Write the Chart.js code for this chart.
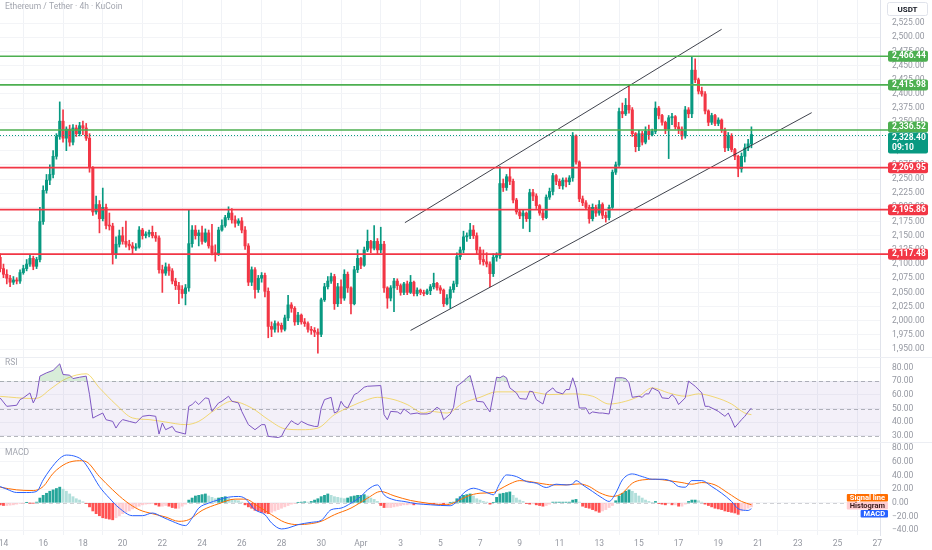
<!DOCTYPE html>
<html><head><meta charset="utf-8">
<script src="https://cdn.jsdelivr.net/npm/chart.js@4.4.1/dist/chart.umd.min.js"></script>
<style>
html,body{margin:0;padding:0;background:#fff;}
#wrap{position:relative;width:932px;height:550px;}
canvas{display:block;}
</style></head><body>
<div id="wrap"><canvas id="c" width="932" height="550"></canvas></div>
<script>
// ---------------- DATA ----------------
const TITLE = 'Ethereum / Tether · 4h · KuCoin';
const QUOTE = 'USDT';
const FIRST_CANDLE_UTC = Date.UTC(2021, 2, 13, 20); // first 4h candle: Mar 13 20:00
const TICK_DATES = ['2021-03-14','2021-03-16','2021-03-18','2021-03-20','2021-03-22','2021-03-24','2021-03-26','2021-03-28','2021-03-30','2021-04-01','2021-04-03','2021-04-05','2021-04-07','2021-04-09','2021-04-11','2021-04-13','2021-04-15','2021-04-17','2021-04-19','2021-04-21','2021-04-23','2021-04-25','2021-04-27'];
const TICK_LABELS = ['14','16','18','20','22','24','26','28','30','Apr','3','5','7','9','11','13','15','17','19','21','23','25','27'];
const PRICE_TICKS = [1950,1975,2000,2025,2050,2075,2100,2125,2150,2175,2200,2225,2250,2275,2300,2325,2350,2375,2400,2425,2450,2475,2500,2525];
const RSI_TICKS = [30,40,50,60,70,80];
const MACD_TICKS = [-40,-20,0,20,40,60,80];

const OPEN = [2112,2092,2082,2075,2068,2072,2070,2085,2092,2100,2110,2096,2108,2175,2230,2248,2258,2290,2325,2352,
2322,2338,2315,2340,2330,2344,2340,2322,2270,2192,2205,2180,2200,2168,2167,2118,2135,2150,2140,2135,
2132,2128,2130,2160,2150,2153,2156,2150,2146,2090,2084,2095,2088,2070,2062,2055,2048,2058,2136,2160,
2150,2155,2140,2155,2132,2120,2118,2160,2168,2182,2190,2178,2172,2176,2160,2132,2068,2090,2055,2075,
2080,2052,1990,1985,1995,1992,1985,2005,2028,2022,1998,2010,1998,1995,1985,1983,1980,1976,2037,2060,
2070,2078,2030,2060,2040,2082,2058,2030,2090,2110,2098,2125,2140,2128,2140,2125,2135,2058,2040,2058,
2070,2062,2050,2065,2050,2068,2048,2054,2050,2048,2053,2060,2066,2058,2054,2030,2040,2055,2065,2113,
2125,2148,2150,2160,2150,2125,2108,2104,2100,2083,2112,2115,2242,2235,2254,2246,2213,2192,2185,2190,
2180,2226,2220,2203,2190,2182,2218,2228,2256,2246,2238,2248,2245,2252,2326,2280,2215,2208,2200,2180,
2200,2190,2205,2186,2182,2200,2262,2275,2369,2365,2380,2372,2330,2307,2330,2315,2334,2328,2334,2375,
2362,2350,2338,2358,2360,2342,2338,2326,2372,2365,2442,2425,2405,2400,2370,2350,2362,2348,2354,2336,
2305,2326,2302,2290,2268,2290,2305,2312];
const HIGH = [2118,2100,2090,2080,2078,2076,2090,2098,2108,2116,2114,2112,2200,2238,2258,2275,2300,2330,2386,2372,
2342,2345,2346,2345,2350,2352,2348,2330,2272,2220,2212,2234,2206,2190,2172,2148,2160,2165,2176,2142,
2138,2136,2166,2163,2157,2160,2167,2156,2150,2098,2102,2100,2092,2075,2068,2062,2064,2195,2168,2168,
2160,2167,2162,2160,2170,2134,2165,2178,2186,2201,2198,2185,2180,2182,2166,2136,2095,2094,2080,2085,
2084,2058,1998,2000,1998,1996,2010,2045,2032,2025,2015,2012,2004,1998,1990,1988,1986,2040,2066,2078,
2084,2082,2066,2072,2090,2086,2060,2096,2125,2112,2130,2160,2142,2168,2145,2165,2140,2060,2062,2075,
2074,2065,2068,2070,2080,2070,2058,2056,2054,2056,2064,2084,2068,2062,2056,2046,2060,2070,2120,2130,
2158,2155,2172,2168,2155,2130,2125,2120,2104,2118,2120,2272,2250,2258,2269,2250,2216,2196,2196,2192,
2232,2232,2224,2205,2195,2222,2234,2260,2258,2250,2252,2252,2256,2332,2328,2282,2220,2212,2204,2206,
2204,2212,2208,2192,2204,2266,2280,2375,2384,2392,2416,2376,2332,2336,2334,2342,2345,2338,2386,2378,
2364,2352,2362,2366,2362,2350,2342,2378,2376,2466,2462,2428,2412,2404,2372,2366,2364,2358,2356,2340,
2332,2330,2304,2292,2296,2312,2320,2342];
const LOW = [2086,2076,2065,2060,2064,2065,2066,2082,2088,2096,2090,2092,2104,2170,2225,2240,2252,2285,2320,2315,
2300,2308,2310,2325,2326,2328,2318,2262,2186,2188,2155,2176,2162,2160,2100,2110,2130,2135,2130,2125,
2118,2124,2128,2144,2146,2148,2146,2140,2084,2050,2080,2080,2065,2055,2030,2040,2028,2052,2130,2144,
2132,2135,2138,2128,2116,2105,2115,2158,2165,2178,2172,2165,2168,2155,2126,2062,2062,2040,2050,2068,
2042,1970,1972,1980,1980,1980,1982,2000,2015,1992,1993,1994,1990,1980,1976,1972,1943,1972,2034,2056,
2066,2020,2025,2030,2036,2050,2012,2028,2085,2092,2096,2122,2120,2125,2118,2120,2050,2022,2035,2016,
2055,2045,2046,2046,2048,2044,2044,2046,2044,2046,2046,2056,2054,2048,2025,2028,2022,2050,2060,2108,
2120,2140,2145,2145,2118,2100,2098,2095,2060,2078,2105,2110,2228,2230,2240,2208,2188,2180,2163,2175,
2157,2212,2198,2186,2178,2180,2214,2222,2240,2233,2232,2236,2240,2246,2276,2210,2203,2196,2172,2176,
2184,2186,2180,2174,2178,2198,2258,2272,2358,2362,2366,2325,2298,2300,2310,2312,2320,2326,2330,2356,
2345,2330,2286,2346,2338,2330,2320,2322,2358,2358,2420,2400,2396,2365,2344,2346,2344,2344,2332,2298,
2300,2298,2284,2254,2262,2280,2300,2305];
const CLOSE = [2092,2082,2075,2068,2072,2070,2085,2092,2100,2110,2096,2108,2175,2230,2248,2258,2290,2325,2352,2322,
2338,2315,2340,2330,2344,2340,2322,2270,2192,2205,2180,2200,2168,2167,2118,2135,2150,2140,2135,2132,
2128,2130,2160,2150,2153,2156,2150,2146,2090,2084,2095,2088,2070,2062,2055,2048,2058,2136,2160,2150,
2155,2140,2155,2132,2120,2118,2160,2168,2182,2190,2178,2172,2176,2160,2132,2068,2090,2055,2075,2080,
2052,1990,1985,1995,1992,1985,2005,2028,2022,1998,2010,1998,1995,1985,1983,1980,1976,2037,2060,2070,
2078,2030,2060,2040,2082,2058,2030,2090,2110,2098,2125,2140,2128,2140,2125,2135,2058,2040,2058,2070,
2062,2050,2065,2050,2068,2048,2054,2050,2048,2053,2060,2066,2058,2054,2030,2040,2055,2065,2113,2125,
2148,2150,2160,2150,2125,2108,2104,2100,2083,2112,2115,2242,2235,2254,2246,2213,2192,2185,2190,2180,
2226,2220,2203,2190,2182,2218,2228,2256,2246,2238,2248,2245,2252,2326,2280,2215,2208,2200,2180,2200,
2190,2205,2186,2182,2200,2262,2275,2369,2365,2380,2372,2330,2307,2330,2315,2334,2328,2334,2375,2362,
2350,2338,2358,2360,2342,2338,2326,2372,2365,2442,2425,2405,2400,2370,2350,2362,2348,2354,2336,2305,
2326,2302,2290,2268,2290,2305,2312,2328.40];
const COUNTDOWN = '09:10';

const GREEN_LEVELS = [2466.44, 2415.98, 2336.52];
const RED_LEVELS = [2269.95, 2195.86, 2117.48];
// trend channel: [candle index, price]
const CHANNEL_UPPER = [[122.3, 2173], [218, 2514]];
const CHANNEL_LOWER = [[124, 1983], [245.2, 2367]];

// RSI (14) and its moving average: [candle index, value]
const RSI = [[0,57.8],[2,51.7],[5,52.5],[6,56.6],[7,57.9],[9,61.5],[10,54.2],[11,59.1],[12,73.8],[14,76.2],[16,78],[18,82.8],[19,75],[21,74.5],[22,72],[24,73],[26,73.8],[27,60.3],[28,43.1],[29,44.4],[31,46.8],[32,41.9],[34,40.7],[35,35.8],[36,39.5],[37,42],[39,40.7],[41,39.5],[43,44.4],[45,45.1],[47,44.4],[48,31.4],[49,39.5],[50,34.6],[52,37],[53,33.3],[56,31.4],[57,51.7],[58,53],[59,55.4],[60,53],[62,57.9],[63,57.4],[64,48],[66,54.2],[67,55.4],[69,59.1],[70,55.4],[72,54.2],[73,48],[75,38.3],[77,34.6],[79,38.3],[80,38.3],[81,29.7],[84,28.9],[85,29.7],[86,34.6],[88,41.2],[89,39.5],[90,38.3],[91,40.7],[93,38.3],[95,37],[96,37],[97,50.5],[98,56.6],[100,58.3],[101,46.8],[102,48],[103,55.4],[104,51.7],[105,50.5],[107,60.3],[108,61.5],[110,65.7],[111,66.4],[115,66.9],[116,45.6],[117,41.9],[118,48],[120,47.6],[121,46.1],[122,49.8],[124,46.1],[126,46.8],[127,46.1],[129,46.1],[130,46.8],[132,51],[133,49.3],[134,41.9],[136,46.1],[137,51],[138,66.4],[140,70.1],[141,72.6],[142,74.3],[143,65.2],[144,55.4],[146,54.9],[147,51],[148,47.6],[149,60.3],[150,73],[151,72.6],[152,74],[153,72.6],[154,65.2],[156,61.5],[157,57.4],[159,56.9],[160,62.8],[161,62.3],[162,56.6],[164,53.4],[165,61.5],[167,65.2],[168,62.3],[170,60.8],[171,64],[172,64],[173,72.6],[174,65.2],[175,50.5],[177,50.5],[178,46.1],[179,47.6],[181,46.8],[182,46.8],[184,46.1],[185,57.9],[186,72.6],[188,72.6],[189,72],[190,68.9],[191,58.3],[193,59.1],[194,58.3],[195,60.8],[196,60.8],[197,65.2],[199,62.8],[200,57.9],[202,57.4],[203,60.3],[204,57.9],[205,53],[207,57.9],[208,70.1],[210,66.4],[212,61.5],[213,51.7],[214,51.7],[216,49.3],[217,48],[219,44.4],[220,46.8],[221,41.9],[222,36.3],[224,41.9],[225,44.4],[226,47.6],[227,50.5]];
const RSI_MA = [[0,59],[10,57.4],[12,58.3],[15,64],[20,72],[26,75.5],[30,65.2],[35,53],[40,43.2],[45,42],[50,40.2],[56,38.3],[60,40.7],[65,49.3],[70,55.4],[76,50.5],[81,42],[86,35.3],[91,34.6],[96,35.8],[101,45.6],[106,51.7],[111,56.6],[114,58.3],[119,56.6],[123,53],[128,46.8],[130,48],[135,46.8],[140,54.2],[145,58.3],[150,62.3],[155,62.3],[160,62.3],[166,60.3],[173,60.8],[179,59.1],[184,53.4],[189,55.4],[193,59.1],[197,65.2],[202,61.5],[207,59.1],[211,60.8],[216,58.3],[221,53.4],[225,46.8],[227,45.6]];
const RSI_BAND = [30, 70];
const RSI_LEVELS = [70, 50, 30];

// MACD (12,26,9): [candle index, value]
const MACD = [[0,23.9],[2,20],[5,15.1],[8,15.1],[11,16.6],[13,33.6],[15,48.2],[18,65.2],[20,70.1],[23,67.7],[25,61.8],[27,48.2],[30,23.9],[33,6.8],[36,-7.8],[40,-18.9],[43,-18.9],[46,-15],[49,-20.9],[52,-27.2],[56,-33.5],[58,-22.4],[60,-7.8],[63,-0.5],[66,4.4],[69,8.3],[72,9.3],[74,6.4],[77,-10.2],[80,-17.5],[82,-29.6],[85,-38.4],[87,-37],[90,-32.1],[94,-28.7],[97,-25.8],[100,-10.2],[103,-7.8],[106,-0.5],[109,9.3],[111,19],[114,26.3],[116,11.7],[119,4.4],[122,2],[126,-1.4],[130,-2.9],[133,-3.9],[136,-4.3],[138,2],[140,14.1],[143,21.4],[145,19],[148,13.2],[149,11.7],[151,28.7],[153,40.9],[156,38.5],[159,31.2],[162,28.7],[165,22.4],[168,27.3],[171,26.3],[173,27.8],[174,32.6],[176,26.3],[179,16.6],[182,6.8],[184,2],[186,14.1],[188,33.6],[191,42.4],[194,38.5],[197,34.6],[200,34.6],[203,31.2],[205,23.9],[207,22.9],[209,32.6],[212,32.6],[215,23.9],[218,14.1],[221,2],[223,-8.7],[226,-11.2],[227,-8.7]];
const SIGNAL = [[0,22.9],[5,19],[10,18],[13,23.9],[16,43.3],[20,57.9],[24,61.8],[26,60.4],[30,38.5],[34,19],[38,2],[42,-10.2],[46,-16],[50,-20.9],[54,-27.2],[57,-24.8],[61,-11.2],[66,-1.4],[71,5.4],[74,5.4],[78,-5.3],[82,-17.5],[86,-28.7],[90,-32.1],[94,-30.6],[97,-27.2],[101,-17.5],[106,-7.8],[111,6.8],[115,16.6],[119,10.3],[124,3.4],[129,-0.5],[130,-1.4],[135,-2.9],[138,2],[141,9.3],[145,14.1],[149,15.1],[151,20],[154,27.8],[157,32.6],[160,31.2],[163,28.7],[167,26.3],[171,26.3],[175,27.8],[178,23.9],[181,15.1],[185,9.3],[188,14.1],[191,28.7],[194,33.6],[198,34.6],[202,32.6],[206,29.7],[209,27.3],[212,29.7],[216,26.3],[220,14.1],[224,2],[227,-2.9]];
const HIST = [-3,-4,-4,-3.5,-3,-2,-1,-0.5,0.3,-0.3,-0.5,1,7,11,14,17,19,21,23,20,
17,13,9,6,4,1.5,-1,-6,-12,-16,-19,-22,-23,-24,-25,-22,-19,-16,-14,-12,
-9,-7,-5,-3,-2,-1.5,-1,-3,-5,-5,-4,-5,-7,-8,-8,-5,-2,4,7,10,
11,12,13,10,8,6,7,8,9,7,5,4,3,1,-3,-6,-8,-11,-12,-14,
-15,-16,-14,-12,-10,-8,-6,-4,-2,-1,0.5,1,1.5,1,2,4,6,9,11,13,
11,9,8,7,6,7,9,10,11,11,12,10,7,5,2,-4,-7,-7,-7,-6,
-5,-4,-3,-3,-2,-3,-2,-1.5,-1,-1,-1.5,-2,-2,-1.5,-2.5,-1,0.5,1,6,9,
11,12,13,10,6,4,2,1,-2,0.5,8,13,14,15,16,11,7,4,2,-1,
-2,-1.5,-3,-4,-5,-4,-2,1,1,1,1,1,1,4,5,1,-5,-7,-8,-10,
-12,-14,-12,-10,-7,-4,3,10,14,17,19,17,14,10,7,4,2,0.5,2,-1,
-2,-3,-1,-3,-3,-5,-5,-2,2,4,4,3,1,-2,-4,-6,-8,-9,-10,-12,
-13,-14,-15,-17,-12,-10,-8,-6];

// ---------------- CHART ----------------
const FONT = 'Roboto, "Noto Sans", "DejaVu Sans", sans-serif';
Chart.defaults.font.family = FONT;
const UP = '#089981', DN = '#f23645', GREEN = '#4caf50', RED = '#f23645';
const TEXT = '#9598a1';
const H4 = 4 * 3600 * 1000;
const TICK_POS = TICK_DATES.map(d => (Date.parse(d + 'T00:00:00Z') - FIRST_CANDLE_UTC) / H4);
const IDX = CLOSE.map((_, i) => i);
const isUp = i => CLOSE[i] >= OPEN[i];
const pts = arr => arr.map(([x, y]) => ({x, y}));
const fmt = v => (v < 0 ? '\u2212' : '') + Math.abs(v).toLocaleString('en-US', {minimumFractionDigits: 2, maximumFractionDigits: 2});
const histColor = i => {
  const v = HIST[i], p = i > 0 ? HIST[i - 1] : 0;
  if (v >= 0) return v >= p ? '#26a69a' : '#b2dfdb';
  return v < p ? '#ff5252' : '#ffcdd2';
};
const lastOf = arr => arr[arr.length - 1][1];

function rr(ctx, x, y, w, h, r) {
  ctx.beginPath();
  ctx.moveTo(x + r, y); ctx.lineTo(x + w - r, y); ctx.quadraticCurveTo(x + w, y, x + w, y + r);
  ctx.lineTo(x + w, y + h - r); ctx.quadraticCurveTo(x + w, y + h, x + w - r, y + h);
  ctx.lineTo(x + r, y + h); ctx.quadraticCurveTo(x, y + h, x, y + h - r);
  ctx.lineTo(x, y + r); ctx.quadraticCurveTo(x, y, x + r, y); ctx.closePath();
}

const overlay = {
  id: 'overlay',
  beforeDatasetsDraw(chart) {
    const {ctx, chartArea: a, scales} = chart;
    const yR = scales.yR, yM = scales.yM;
    ctx.save();
    const t = yR.getPixelForValue(RSI_BAND[1]), b = yR.getPixelForValue(RSI_BAND[0]);
    ctx.fillStyle = 'rgba(126,87,194,0.09)';
    ctx.fillRect(a.left, t, a.right - a.left, b - t);
    ctx.setLineDash([4, 3]); ctx.lineWidth = 1; ctx.strokeStyle = 'rgba(120,123,134,0.55)';
    RSI_LEVELS.forEach(v => {
      const y = Math.round(yR.getPixelForValue(v)) + 0.5;
      ctx.beginPath(); ctx.moveTo(a.left, y); ctx.lineTo(a.right, y); ctx.stroke();
    });
    ctx.strokeStyle = 'rgba(120,123,134,0.35)';
    const z = Math.round(yM.getPixelForValue(0)) + 0.5;
    ctx.beginPath(); ctx.moveTo(a.left, z); ctx.lineTo(a.right, z); ctx.stroke();
    ctx.setLineDash([]);
    // pane separators
    ctx.strokeStyle = '#eceef3';
    [yR.top, yM.top].forEach(yy => { const y = Math.round(yy) + 0.5; ctx.beginPath(); ctx.moveTo(0, y); ctx.lineTo(chart.width, y); ctx.stroke(); });
    ctx.restore();
  },
  afterDatasetsDraw(chart) {
    const {ctx, chartArea: a, scales} = chart;
    const y = scales.y;
    ctx.save();
    // current price dotted line
    const yc = Math.round(y.getPixelForValue(CLOSE[CLOSE.length - 1])) + 0.5;
    ctx.setLineDash([1, 2]); ctx.strokeStyle = UP; ctx.lineWidth = 1;
    ctx.beginPath(); ctx.moveTo(a.left, yc); ctx.lineTo(888, yc); ctx.stroke();
    ctx.setLineDash([]);
    GREEN_LEVELS.forEach(v => {
      const p = y.getPixelForValue(v);
      ctx.strokeStyle = GREEN; ctx.lineWidth = 1.6;
      ctx.beginPath(); ctx.moveTo(a.left, p); ctx.lineTo(888, p); ctx.stroke();
    });
    RED_LEVELS.forEach(v => {
      const p = y.getPixelForValue(v);
      ctx.strokeStyle = RED; ctx.lineWidth = 1.8;
      ctx.beginPath(); ctx.moveTo(a.left, p); ctx.lineTo(888, p); ctx.stroke();
    });
    ctx.restore();
  },
  afterDraw(chart) {
    const {ctx, scales} = chart;
    const y = scales.y, yR = scales.yR, yM = scales.yM;
    ctx.save();
    ctx.textBaseline = 'middle';
    // title and pane labels
    ctx.font = '8.5px ' + FONT; ctx.fillStyle = '#a3a6af'; ctx.textAlign = 'left';
    ctx.fillText(TITLE, 5, 7);
    ctx.fillText('RSI', 5, yR.top + 6);
    ctx.fillText('MACD', 5, yM.top + 11);
    // USDT box
    rr(ctx, 887.5, 2.5, 40, 13, 2); ctx.fillStyle = '#fff'; ctx.fill();
    ctx.strokeStyle = '#e0e3eb'; ctx.lineWidth = 1; ctx.stroke();
    ctx.fillStyle = '#131722'; ctx.font = 'bold 8px ' + FONT; ctx.textAlign = 'center';
    ctx.fillText(QUOTE, 907.5, 9.5);
    // price badges
    const badge = (top, h, color, lines, tc) => {
      rr(ctx, 888, top, 40, h, 2); ctx.fillStyle = color; ctx.fill();
      ctx.fillStyle = tc || '#fff'; ctx.font = 'bold 8.5px ' + FONT; ctx.textAlign = 'left';
      lines.forEach((t, k) => ctx.fillText(t, 892, top + 5.5 + k * 10));
    };
    const last = CLOSE[CLOSE.length - 1];
    const yCur = y.getPixelForValue(last);
    const curTop = yCur - 2, curH = 21;
    const lv = GREEN_LEVELS.map(v => ({v, c: GREEN})).concat(RED_LEVELS.map(v => ({v, c: RED})));
    lv.forEach(({v, c}) => {
      const cy = y.getPixelForValue(v), h = 11;
      let top = cy - h / 2;
      if (top < curTop + curH && top + h > curTop) top = cy < yCur ? curTop - h : curTop + curH;
      badge(top, h, c, [fmt(v)]);
    });
    badge(curTop, curH, UP, [fmt(last), COUNTDOWN]);
    // MACD labels
    const yMacd = yM.getPixelForValue(lastOf(MACD)) + 5;
    const tags = [['MACD', '#2962ff', '#fff', yMacd], ['Histogram', '#ffcdd2', '#3a1b1b', yMacd - 8], ['Signal line', '#ff6d00', '#fff', yMacd - 16]];
    ctx.font = 'bold 7.5px ' + FONT;
    tags.forEach(([t, bg, fg, cy]) => {
      const w = ctx.measureText(t).width + 6;
      rr(ctx, 888 - w, cy - 3.8, w, 7.6, 1); ctx.fillStyle = bg; ctx.fill();
      ctx.fillStyle = fg; ctx.textAlign = 'left'; ctx.fillText(t, 891 - w, cy + 0.3);
    });
    ctx.restore();
  }
};

const yAxisCommon = (weight) => ({
  type: 'linear', position: 'right', stack: 'panes', stackWeight: weight, offset: false,
  grid: {color: '#f3f4f7', drawTicks: false},
  border: {display: true, color: '#e0e3eb'},
  ticks: {color: TEXT, font: {size: 8.5}, padding: 12, callback: v => fmt(v), autoSkip: false},
  afterFit: s => { s.width = 52; s.paddingTop = 0; s.paddingBottom = 0; }
});

new Chart(document.getElementById('c'), {
  type: 'bar',
  data: {
    datasets: [
      {type: 'bar', label: 'wick', yAxisID: 'y', grouped: false, barThickness: 1, order: 6,
       data: IDX.map(i => ({x: i, y: [LOW[i], HIGH[i]]})),
       backgroundColor: c => isUp(c.dataIndex) ? UP : DN},
      {type: 'bar', label: 'body', yAxisID: 'y', grouped: false, barThickness: 2.4, minBarLength: 1, order: 5,
       data: IDX.map(i => ({x: i, y: [OPEN[i], CLOSE[i]]})),
       backgroundColor: c => isUp(c.dataIndex) ? UP : DN},
      {type: 'line', label: 'channel up', yAxisID: 'y', data: pts(CHANNEL_UPPER), borderColor: '#2a2e39', borderWidth: 0.9, pointRadius: 0, order: 1},
      {type: 'line', label: 'channel low', yAxisID: 'y', data: pts(CHANNEL_LOWER), borderColor: '#2a2e39', borderWidth: 0.9, pointRadius: 0, order: 1},
      {type: 'line', label: 'RSI MA', yAxisID: 'yR', data: pts(RSI_MA), borderColor: 'rgba(240,205,70,0.75)', borderWidth: 1, pointRadius: 0, cubicInterpolationMode: 'monotone', order: 3},
      {type: 'line', label: 'RSI', yAxisID: 'yR', data: pts(RSI), borderColor: '#7e57c2', borderWidth: 1, pointRadius: 0, order: 2,
       fill: {target: {value: 70}, above: 'rgba(76,175,80,0.22)', below: 'rgba(0,0,0,0)'}},
      {type: 'bar', label: 'Histogram', yAxisID: 'yM', grouped: false, barThickness: 2.2, order: 4,
       data: IDX.map(i => ({x: i, y: HIST[i]})),
       backgroundColor: c => histColor(c.dataIndex)},
      {type: 'line', label: 'MACD', yAxisID: 'yM', data: pts(MACD), borderColor: '#2962ff', borderWidth: 1, pointRadius: 0, cubicInterpolationMode: 'monotone', order: 2},
      {type: 'line', label: 'Signal', yAxisID: 'yM', data: pts(SIGNAL), borderColor: '#ff6d00', borderWidth: 1, pointRadius: 0, cubicInterpolationMode: 'monotone', order: 2}
    ]
  },
  options: {
    responsive: false, animation: false,
    layout: {padding: 0},
    plugins: {legend: {display: false}, tooltip: {enabled: false}},
    scales: {
      x: {
        type: 'linear', min: -0.05, max: 265.85, offset: false,
        afterBuildTicks: s => { s.ticks = TICK_POS.map(v => ({value: v})); },
        ticks: {color: TEXT, font: {size: 8.5}, padding: 4, maxRotation: 0, autoSkip: false,
                callback: (v, k) => TICK_LABELS[k]},
        grid: {color: '#f0f2f6', drawTicks: false},
        border: {display: false},
        afterFit: s => { s.height = 15; s.paddingLeft = 0; s.paddingRight = 0; }
      },
      y: Object.assign(yAxisCommon(357), {min: 1936.1, max: 2565.7,
        afterBuildTicks: s => { s.ticks = PRICE_TICKS.map(v => ({value: v})); }}),
      yR: Object.assign(yAxisCommon(85), {min: 25.6, max: 87.8,
        afterBuildTicks: s => { s.ticks = RSI_TICKS.map(v => ({value: v})); }}),
      yM: Object.assign(yAxisCommon(93), {min: -47.3, max: 89.3,
        afterBuildTicks: s => { s.ticks = MACD_TICKS.map(v => ({value: v})); }})
    }
  },
  plugins: [overlay]
});
</script>
</body></html>
